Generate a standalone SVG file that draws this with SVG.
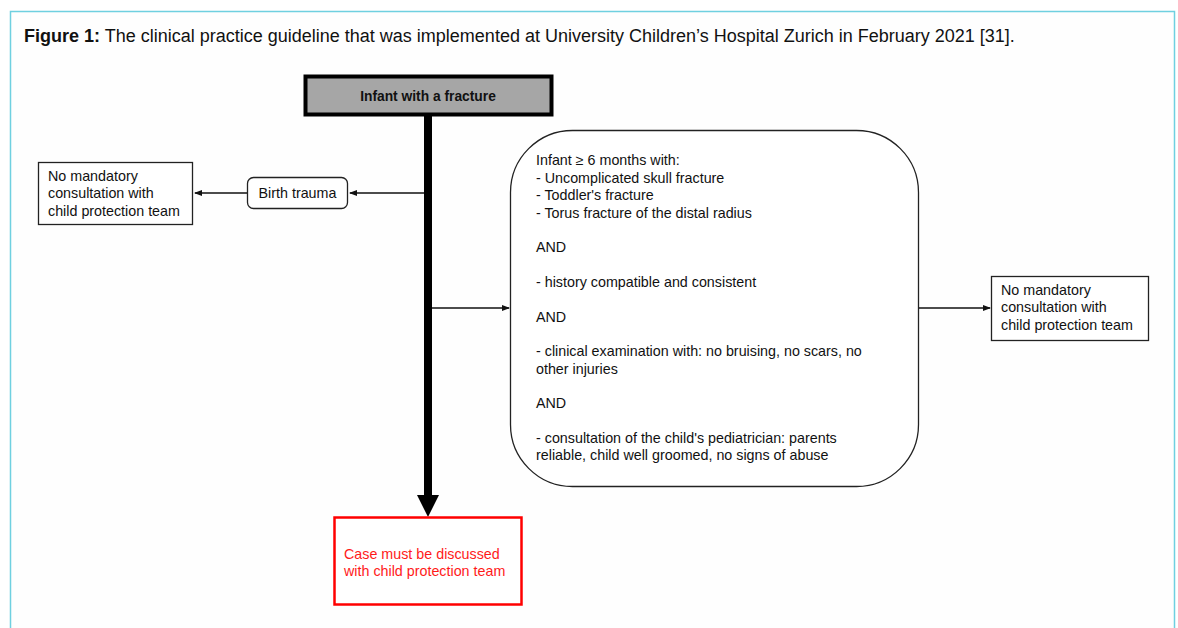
<svg xmlns="http://www.w3.org/2000/svg" width="1178" height="628" viewBox="0 0 1178 628">
<style>
.t{font-family:"Liberation Sans",Arial,sans-serif;font-size:14.3px;fill:#111}
.box{fill:#fff;stroke:#222;stroke-width:1.3}
.ln{stroke:#111;stroke-width:1.6;fill:none}
</style>
<defs>
<marker id="ah" markerWidth="8" markerHeight="8" refX="7" refY="4" orient="auto" markerUnits="userSpaceOnUse">
<path d="M0,1 L8,4 L0,7 Z" fill="#111"/>
</marker>
</defs>
<rect x="0" y="0" width="1178" height="628" fill="#fff"/>
<rect x="10.5" y="11.5" width="1164" height="630" fill="#fefefe" stroke="#6fd0e0" stroke-width="1.5"/>
<text x="24" y="42" style="font-family:'Liberation Sans',Arial,sans-serif;font-size:18px;fill:#111"><tspan font-weight="bold">Figure 1:</tspan> The clinical practice guideline that was implemented at University Children’s Hospital Zurich in February 2021 [31].</text>
<g id="connectors">
<rect x="424" y="115" width="8" height="381" fill="#000"/>
<path d="M417,495 L439,495 L428,517 Z" fill="#000"/>
<line class="ln" x1="424" y1="193" x2="350" y2="193" marker-end="url(#ah)"/>
<line class="ln" x1="247" y1="193" x2="195" y2="193" marker-end="url(#ah)"/>
<line class="ln" x1="432" y1="308" x2="509" y2="308" marker-end="url(#ah)"/>
<line class="ln" x1="918" y1="308" x2="990" y2="308" marker-end="url(#ah)"/>
</g>
<g id="start">
<rect x="305.5" y="76.5" width="246" height="38" fill="#a6a6a6" stroke="#000" stroke-width="4"/>
<text class="t" x="428" y="101" text-anchor="middle" font-weight="bold" style="font-size:13.8px">Infant with a fracture</text>
</g>
<g id="birth">
<rect class="box" x="247.5" y="177.5" width="100" height="31" rx="6"/>
<text class="t" x="297.5" y="198" text-anchor="middle">Birth trauma</text>
</g>
<g id="left-out">
<rect class="box" x="38.5" y="162.5" width="154" height="62"/>
<text class="t" x="48" y="180.5">No mandatory</text>
<text class="t" x="48" y="198">consultation with</text>
<text class="t" x="48" y="215.5">child protection team</text>
</g>
<g id="criteria">
<rect class="box" x="510.5" y="130.5" width="408" height="356" rx="62"/>
<text class="t" x="536" y="165">Infant ≥ 6 months with:</text>
<text class="t" x="536" y="182.5">- Uncomplicated skull fracture</text>
<text class="t" x="536" y="200">- Toddler's fracture</text>
<text class="t" x="536" y="217.5">- Torus fracture of the distal radius</text>
<text class="t" x="536" y="252">AND</text>
<text class="t" x="536" y="287">- history compatible and consistent</text>
<text class="t" x="536" y="321.5">AND</text>
<text class="t" x="536" y="356">- clinical examination with: no bruising, no scars, no</text>
<text class="t" x="536" y="373.5">other injuries</text>
<text class="t" x="536" y="408">AND</text>
<text class="t" x="536" y="442.5">- consultation of the child's pediatrician: parents</text>
<text class="t" x="536" y="460">reliable, child well groomed, no signs of abuse</text>
</g>
<g id="right-out">
<rect class="box" x="991.5" y="276.5" width="157" height="64"/>
<text class="t" x="1001" y="294.5">No mandatory</text>
<text class="t" x="1001" y="312">consultation with</text>
<text class="t" x="1001" y="329.5">child protection team</text>
</g>
<g id="case">
<rect x="334.5" y="517.5" width="187" height="87" fill="#fff" stroke="#ff0000" stroke-width="2.5"/>
<text class="t" x="344" y="558.5" style="fill:#ff1a1a">Case must be discussed</text>
<text class="t" x="344" y="576" style="fill:#ff1a1a">with child protection team</text>
</g>
</svg>
